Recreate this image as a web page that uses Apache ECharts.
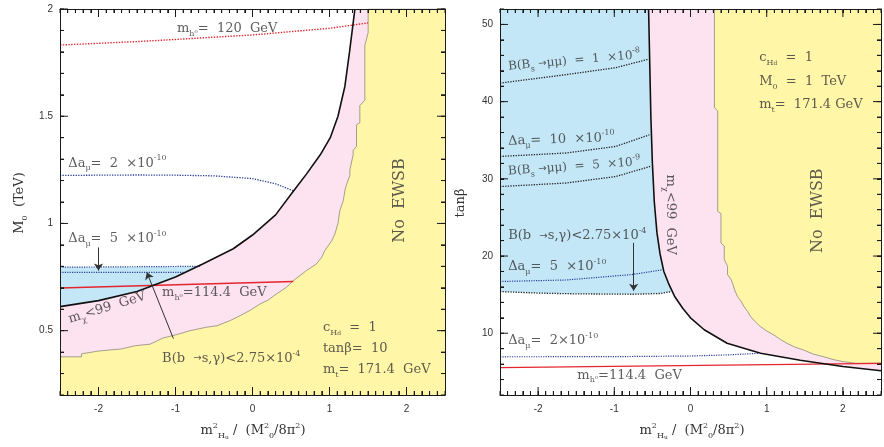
<!DOCTYPE html>
<html>
<head>
<meta charset="utf-8">
<script src="https://cdn.jsdelivr.net/npm/echarts/dist/echarts.min.js"></script>
<style>
  html, body { margin: 0; padding: 0; background: #fff; }
  #main { width: 884px; height: 447px; }
</style>
</head>
<body>
<div id="main"></div>
<script>
// ---- left panel: M0 vs m^2_Hu (tan beta = 10) ----
var blackL = [[-2.5,0.612],[-2.0,0.640],[-1.5,0.683],[-1.0,0.750],[-0.64,0.812],[-0.25,0.882],[0,0.946],[0.3,1.04],[0.53,1.15],[0.70,1.23],[0.88,1.32],[1.01,1.40],[1.11,1.50],[1.20,1.64],[1.26,1.80],[1.33,2.0]];
var yellowL = [[-2.5,0.378],[-2.22,0.378],[-2.22,0.392],[-2.0,0.405],[-1.7,0.415],[-1.52,0.43],[-1.33,0.437],[-1.16,0.466],[-0.98,0.482],[-0.81,0.50],[-0.6,0.516],[-0.46,0.523],[-0.29,0.547],[-0.16,0.57],[-0.03,0.595],[0.1,0.625],[0.2,0.642],[0.31,0.671],[0.44,0.702],[0.53,0.733],[0.70,0.780],[0.83,0.811],[0.90,0.843],[0.94,0.874],[1.03,0.920],[1.07,0.951],[1.11,1.0],[1.135,1.061],[1.18,1.107],[1.20,1.154],[1.22,1.18],[1.265,1.224],[1.265,1.25],[1.307,1.32],[1.307,1.34],[1.351,1.36],[1.351,1.46],[1.394,1.47],[1.394,1.55],[1.459,1.575],[1.459,1.83],[1.502,1.89],[1.502,2.0],[2.5,2.0]];
var blueL = [[-2.5,0.796],[-1.5,0.797],[-0.6,0.799]];
var mh120L = [[-2.5,1.832],[-1.5,1.848],[-1,1.858],[0,1.879],[1,1.91],[1.5,1.935]];
var da2L = [[-2.5,1.224],[-1.5,1.226],[-1,1.225],[-0.5,1.222],[0,1.209],[0.3,1.185],[0.53,1.152]];
var da5aL = [[-2.5,0.796],[-0.68,0.800]];
var da5bL = [[-2.5,0.772],[-0.9,0.772]];
var mh114L = [[-2.5,0.699],[0.53,0.729]];
var arrowsL = [[[-2,0.888],[-2,0.78]], [[-1.027,0.463],[-1.372,0.772]]];

// ---- right panel: tan beta vs m^2_Hu (M0 = 1 TeV) ----
var blackR = [[-0.55,52],[-0.535,45],[-0.52,38],[-0.50,32],[-0.475,27],[-0.44,23],[-0.40,20.3],[-0.35,18],[-0.29,16.5],[-0.21,14.8],[-0.10,13.2],[0.0,12.0],[0.18,10.45],[0.48,8.7],[0.92,7.4],[1.44,6.5],[2.0,5.7],[2.5,5.15]];
var yellowR = [[0.314,52],[0.314,39.2],[0.357,38.8],[0.357,25.8],[0.40,25.5],[0.40,21.7],[0.443,21.3],[0.443,19.6],[0.486,18.65],[0.486,17.6],[0.53,17.0],[0.551,16.5],[0.58,15.6],[0.616,14.75],[0.66,14.2],[0.703,13.45],[0.75,12.8],[0.789,12.16],[0.85,11.5],[0.918,10.86],[1.0,10.3],[1.092,9.78],[1.18,9.2],[1.265,8.70],[1.37,8.2],[1.481,7.84],[1.61,7.3],[1.741,6.97],[1.87,6.6],[2.0,6.32],[2.17,6.11],[2.5,6.11]];
var blueR = [[-2.5,15.4],[-2.0,15.2],[-1.5,15.1],[-0.75,15.05],[-0.4,15.15],[-0.25,15.4]];
var bs8R = [[-2.5,42.4],[-1.63,43.5],[-0.98,44.4],[-0.55,45.5]];
var da10R = [[-2.5,32.9],[-1.63,33.35],[-0.98,34.2],[-0.54,35.7]];
var bs9R = [[-2.5,29.0],[-1.63,29.46],[-0.98,30.3],[-0.53,31.6]];
var da5R = [[-2.5,16.7],[-1.63,16.9],[-0.77,17.6],[-0.38,18.2]];
var da2R = [[-2.5,6.95],[-1,6.97],[0,7.05],[0.5,7.2],[0.9,7.4]];
var mh114R = [[-2.5,5.55],[2.5,6.1]];
var arrowsR = [[[-0.746,21.7],[-0.746,15.5]]];

// tick values
var xMajor = [-2, -1, 0, 1, 2];
var xMinor = [-2.5,-2.4,-2.3,-2.2,-2.1,-2.0,-1.9,-1.8,-1.7,-1.6,-1.5,-1.4,-1.3,-1.2,-1.1,-1.0,-0.9,-0.8,-0.7,-0.6,-0.5,-0.4,-0.3,-0.2,-0.1,0,
              0.1,0.2,0.3,0.4,0.5,0.6,0.7,0.8,0.9,1.0,1.1,1.2,1.3,1.4,1.5,1.6,1.7,1.8,1.9,2.0,2.1,2.2,2.3,2.4,2.5];
var yMajorL = [0.5, 1, 1.5, 2];
var yMinorL = [0.2,0.3,0.4,0.5,0.6,0.7,0.8,0.9,1.0,1.1,1.2,1.3,1.4,1.5,1.6,1.7,1.8,1.9,2.0];
var yMajorR = [10, 20, 30, 40, 50];
var yMinorR = [2,4,6,8,10,12,14,16,18,20,22,24,26,28,30,32,34,36,38,40,42,44,46,48,50,52];

// annotations: x, y, rich text, rotation, align
var notesL = [
  [-0.98, 1.907, '{b|m}{s|h⁰}{b|=  120  GeV}', 0, 'left'],
  [-2.393, 1.28, '{b|Δa}{s|μ}{b|=  2  ×10}{p|-10}', 0, 'left'],
  [-2.393, 0.93, '{b|Δa}{s|μ}{b|=  5  ×10}{p|-10}', 0, 'left'],
  [-1.887, 0.607, '{b|m}{s|χ}{b|<99  GeV}', 17, 'center'],
  [-1.174, 0.678, '{b|m}{s|h⁰}{b|=114.4  GeV}', 0, 'left'],
  [-1.174, 0.369, '{b|B(b  }{a|→}{b|s,γ)<2.75×10}{p|-4}', 0, 'left'],
  [0.914, 0.514, '{b|c}{s|H}{ss|d}{b|  =  1}', 0, 'left'],
  [0.914, 0.416, '{b|tanβ=  10}', 0, 'left'],
  [0.914, 0.318, '{b|m}{s|t}{b|=  171.4  GeV}', 0, 'left'],
  [1.913, 1.107, '{big|No  EWSB}', 90, 'center']
];
var notesR = [
  [-2.393, 44.55, '{m|B(B}{s|s}{m| }{a|→}{m|μμ)  =  1  ×10}{p|-8}', 5, 'left'],
  [-2.393, 34.86, '{b|Δa}{s|μ}{b|=  10  ×10}{p|-10}', 2, 'left'],
  [-2.393, 30.97, '{m|B(B}{s|s}{m| }{a|→}{m|μμ)  =  5  ×10}{p|-9}', 4, 'left'],
  [-2.393, 22.6, '{b|B(b  }{a|→}{b|s,γ)<2.75×10}{p|-4}', 0, 'left'],
  [-2.393, 18.6, '{b|Δa}{s|μ}{b|=  5  ×10}{p|-10}', 0, 'left'],
  [-2.393, 9.0, '{b|Δa}{s|μ}{b|=  2×10}{p|-10}', 0, 'left'],
  [-1.485, 4.55, '{b|m}{s|h⁰}{b|=114.4  GeV}', 0, 'left'],
  [-0.266, 25.35, '{b|m}{s|χ}{b|<99  GeV}', -90, 'center'],
  [1.677, 25.87, '{big|No  EWSB}', 90, 'center'],
  [0.901, 45.72, '{b|c}{s|H}{ss|d}{b|  =  1}', 0, 'left'],
  [0.901, 42.6, '{b|M}{s|0}{b|  =  1  TeV}', 0, 'left'],
  [0.901, 39.6, '{b|m}{s|t}{b|=  171.4 GeV}', 0, 'left']
];

var SERIF = 'DejaVu Serif';
var SANS = 'Liberation Sans';
var INK = '#333';
var FRAME = '#1a1a1a';
var YELLOW = '#fff6a8', PINK = '#fce3ef', BLUE = '#c3e7f7';
var RED = '#e3262e', NAVY = '#2b3f96';

var rich = {
  b: { fontFamily: SERIF, fontSize: 13, color: INK, lineHeight: 18 },
  m: { fontFamily: SERIF, fontSize: 12, color: INK, lineHeight: 18 },
  s: { fontFamily: SERIF, fontSize: 8, color: INK, verticalAlign: 'bottom', lineHeight: 9 },
  ss: { fontFamily: SERIF, fontSize: 6, color: INK, verticalAlign: 'bottom', lineHeight: 6 },
  p: { fontFamily: SERIF, fontSize: 8, color: INK, verticalAlign: 'top', lineHeight: 9 },
  a: { fontFamily: 'DejaVu Sans', fontSize: 10, color: INK },
  big: { fontFamily: SERIF, fontSize: 16, color: '#333' }
};

function fmtX(v) {
  return Math.abs(v - Math.round(v)) < 1e-6 ? String(Math.round(v)) : '';
}
function fmtYL(v) {
  var t = v * 2;
  return (Math.abs(t - Math.round(t)) < 1e-6 && v > 0.3) ? String(Math.round(t) / 2) : '';
}
function fmtYR(v) {
  return Math.abs(v / 10 - Math.round(v / 10)) < 1e-6 ? String(Math.round(v)) : '';
}

// labelled axis plus a mirror axis on the opposite side (frame lines)
function makeAxes(dim, g, min, max, step, fmt) {
  var pos = dim === 'x' ? ['bottom', 'top'] : ['left', 'right'];
  function base(p) {
    return {
      gridIndex: g, type: 'value', position: p, min: min, max: max, interval: step,
      splitLine: { show: false }, z: 10,
      axisTick: { show: true, inside: true, length: 4, lineStyle: { color: FRAME, width: 1 } },
      axisLine: { show: true, onZero: false, lineStyle: { color: FRAME, width: 1 } }
    };
  }
  var a0 = base(pos[0]);
  a0.axisLabel = { show: true, formatter: fmt, color: '#333', fontSize: 10, fontFamily: SANS, margin: dim === 'x' ? 9 : 7 };
  var a1 = base(pos[1]);
  a1.axisLabel = { show: false };
  return [a0, a1];
}

var xAxes = makeAxes('x', 0, -2.5, 2.5, 0.1, fmtX).concat(makeAxes('x', 1, -2.5, 2.5, 0.1, fmtX));
var yAxes = makeAxes('y', 0, 0.2, 2, 0.1, fmtYL).concat(makeAxes('y', 1, 2, 52, 2, fmtYR));

// inside frame ticks, placed through the axis scales
function tickSeries(g, dim, minor, major) {
  var data = minor.map(function (v) { return [v, 4]; }).concat(major.map(function (v) { return [v, 8]; }));
  return {
    type: 'custom', xAxisIndex: g * 2, yAxisIndex: g * 2, silent: true, z: 20, clip: false,
    data: data,
    encode: { x: -1, y: -1 },
    renderItem: function (params, api) {
      var cs = params.coordSys;
      var v = api.value(0), len = api.value(1);
      var st = { stroke: FRAME, lineWidth: 1 };
      if (dim === 'x') {
        var px = api.coord([v, g === 0 ? 0.2 : 2])[0];
        return { type: 'group', children: [
          { type: 'line', shape: { x1: px, y1: cs.y + cs.height, x2: px, y2: cs.y + cs.height - len }, style: st },
          { type: 'line', shape: { x1: px, y1: cs.y, x2: px, y2: cs.y + len }, style: st }
        ] };
      }
      var py = api.coord([-2.5, v])[1];
      return { type: 'group', children: [
        { type: 'line', shape: { x1: cs.x, y1: py, x2: cs.x + len, y2: py }, style: st },
        { type: 'line', shape: { x1: cs.x + cs.width, y1: py, x2: cs.x + cs.width - len, y2: py }, style: st }
      ] };
    }
  };
}

// axis titles
var xName = '{b|m}{p|2}{s|H}{ss|u}{b| /  (M}{p|2}{s|0}{b|/8π}{p|2}{b|)}';
function title(text, x, y, rot) {
  return {
    type: 'text', x: x, y: y, rotation: rot, z: 30, silent: true,
    style: { text: text, rich: rich, align: 'center', verticalAlign: 'middle', fill: INK, font: '13px "DejaVu Serif"' }
  };
}

function area(g, data, fill, origin, z, edge) {
  return {
    type: 'line', xAxisIndex: g * 2, yAxisIndex: g * 2, data: data,
    showSymbol: false, symbol: 'none', silent: true, z: z,
    areaStyle: { color: fill, origin: origin, opacity: 1 },
    lineStyle: edge ? { color: edge, width: 0.8 } : { width: 0, opacity: 0 }
  };
}
function curve(g, data, color, type, width, z) {
  return {
    type: 'line', xAxisIndex: g * 2, yAxisIndex: g * 2, data: data,
    showSymbol: false, symbol: 'none', silent: true, z: z || 5,
    lineStyle: { color: color, type: type, width: width }
  };
}
function arrows(g, list) {
  return {
    type: 'lines', coordinateSystem: 'cartesian2d', xAxisIndex: g * 2, yAxisIndex: g * 2,
    data: list.map(function (c) { return { coords: c }; }),
    symbol: ['none', 'arrow'], symbolSize: 7, silent: true, z: 8,
    lineStyle: { color: '#333', width: 1, opacity: 1 }
  };
}
function notes(g, list) {
  return {
    type: 'scatter', xAxisIndex: g * 2, yAxisIndex: g * 2, symbolSize: 0, silent: true, z: 9,
    label: { show: true, position: 'inside', verticalAlign: 'middle', rich: rich },
    data: list.map(function (n) {
      return { value: [n[0], n[1]], label: { formatter: n[2], rotate: n[3], align: n[4] } };
    })
  };
}

var chart = echarts.init(document.getElementById('main'));
chart.setOption({
  animation: false,
  grid: [
    { left: 60, top: 9, width: 385, height: 386 },
    { left: 500, top: 9, width: 383, height: 386 }
  ],
  xAxis: xAxes,
  yAxis: yAxes,
  graphic: [
    title(xName, 253, 431, 0),
    title(xName, 692, 431, 0),
    title('{b|M}{s|0}{b|  (TeV)}', 20, 203, Math.PI / 2),
    title('{b|tanβ}', 461, 203, Math.PI / 2)
  ],
  series: [
    area(0, blueL, BLUE, 'start', 1),
    area(0, blackL.concat([[2.5, 2.0]]), PINK, 'start', 2),
    area(0, yellowL, YELLOW, 'start', 3, '#8a8a80'),
    curve(0, mh120L, RED, 'dotted', 1.4),
    curve(0, da2L, NAVY, 'dotted', 1.3),
    curve(0, da5aL, NAVY, 'dotted', 1.2),
    curve(0, da5bL, NAVY, 'dotted', 1.2),
    curve(0, mh114L, RED, 'solid', 1.4),
    curve(0, blackL, '#111', 'solid', 1.6, 6),
    arrows(0, arrowsL),
    notes(0, notesL),
    tickSeries(0, 'x', xMinor, xMajor),
    tickSeries(0, 'y', yMinorL, yMajorL),

    area(1, blueR, BLUE, 'end', 1),
    area(1, blackR, PINK, 'end', 2),
    area(1, yellowR, YELLOW, 'end', 3, '#8a8a80'),
    curve(1, bs8R, '#222', 'dotted', 1.3),
    curve(1, da10R, '#222', 'dotted', 1.3),
    curve(1, bs9R, '#222', 'dotted', 1.3),
    curve(1, da5R, NAVY, 'dotted', 1.2),
    curve(1, blueR, '#222', 'dotted', 1.3),
    curve(1, da2R, NAVY, 'dotted', 1.2),
    curve(1, mh114R, RED, 'solid', 1.4),
    curve(1, blackR, '#111', 'solid', 1.6, 6),
    arrows(1, arrowsR),
    notes(1, notesR),
    tickSeries(1, 'x', xMinor, xMajor),
    tickSeries(1, 'y', yMinorR, yMajorR)
  ]
});
</script>
</body>
</html>
